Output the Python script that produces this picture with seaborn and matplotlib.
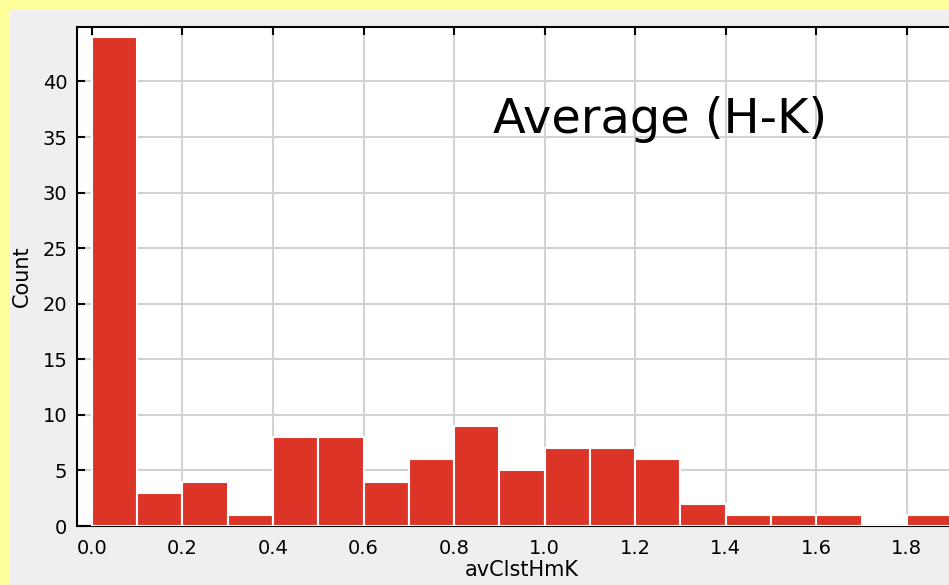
import numpy as np
import pandas as pd
import seaborn as sns
import matplotlib.pyplot as plt
from matplotlib.patches import Rectangle

# histogram of avClstHmK, bins of 0.1 (counts)
bin_edges = [0.0, 0.1, 0.2, 0.3, 0.4, 0.5, 0.6, 0.7, 0.8, 0.9, 1.0,
             1.1, 1.2, 1.3, 1.4, 1.5, 1.6, 1.7, 1.8, 1.9]
counts = [44, 3, 4, 1, 8, 8, 4, 6, 9, 5, 7, 7, 6, 2, 1, 1, 1, 0, 1]
x_ticks = [0.0, 0.2, 0.4, 0.6, 0.8, 1.0, 1.2, 1.4, 1.6, 1.8]
y_ticks = [0, 5, 10, 15, 20, 25, 30, 35, 40]

centers = [(bin_edges[i] + bin_edges[i + 1]) / 2 for i in range(len(counts))]
df = pd.DataFrame({"avClstHmK": centers, "n": counts})

sns.set_style("white")
plt.rcParams['font.family'] = ['DejaVu Sans']

fig = plt.figure(figsize=(9.49, 5.85), dpi=100)
fig.patch.set_facecolor("#ffff99")
# grey window panel
fig.patches.append(Rectangle((10 / 949, 0), 1, 1 - 10 / 585, transform=fig.transFigure,
                             facecolor="#efefef", edgecolor="none", zorder=-5))

ax = fig.add_axes([77 / 949, 59 / 585, 890 / 949, 499 / 585])
ax.set_facecolor("white")

sns.histplot(data=df, x="avClstHmK", weights="n", bins=bin_edges, ax=ax,
             color="#dc3527", alpha=1, edgecolor="white", linewidth=1.5, zorder=3)

ax.set_xlim(-0.033, 1.933)
ax.set_ylim(0, 44.9)
ax.set_xticks(x_ticks)
ax.set_xticklabels([f"{t:.1f}" for t in x_ticks])
ax.set_yticks(y_ticks)
ax.grid(True, color="#d2d2d2", linewidth=1.5, zorder=0)
ax.set_axisbelow(True)
for s in ax.spines.values():
    s.set_color("black")
    s.set_linewidth(1.5)
ax.tick_params(direction="in", length=5.5, width=1.5, top=True, left=True,
               bottom=True, labelsize=14, colors="black")
ax.tick_params(axis="x", pad=9.5)
ax.tick_params(axis="y", pad=7)
ax.set_xlabel("avClstHmK", fontsize=15, labelpad=1.5, color="black")
ax.set_ylabel("Count", fontsize=15, labelpad=7.4, color="black")

ax.text(1.254, 35.35, "Average (H-K)", fontsize=34.5, color="black",
        ha="center", va="baseline", zorder=5)

fig.savefig("out.png", dpi=100, facecolor=fig.get_facecolor())
